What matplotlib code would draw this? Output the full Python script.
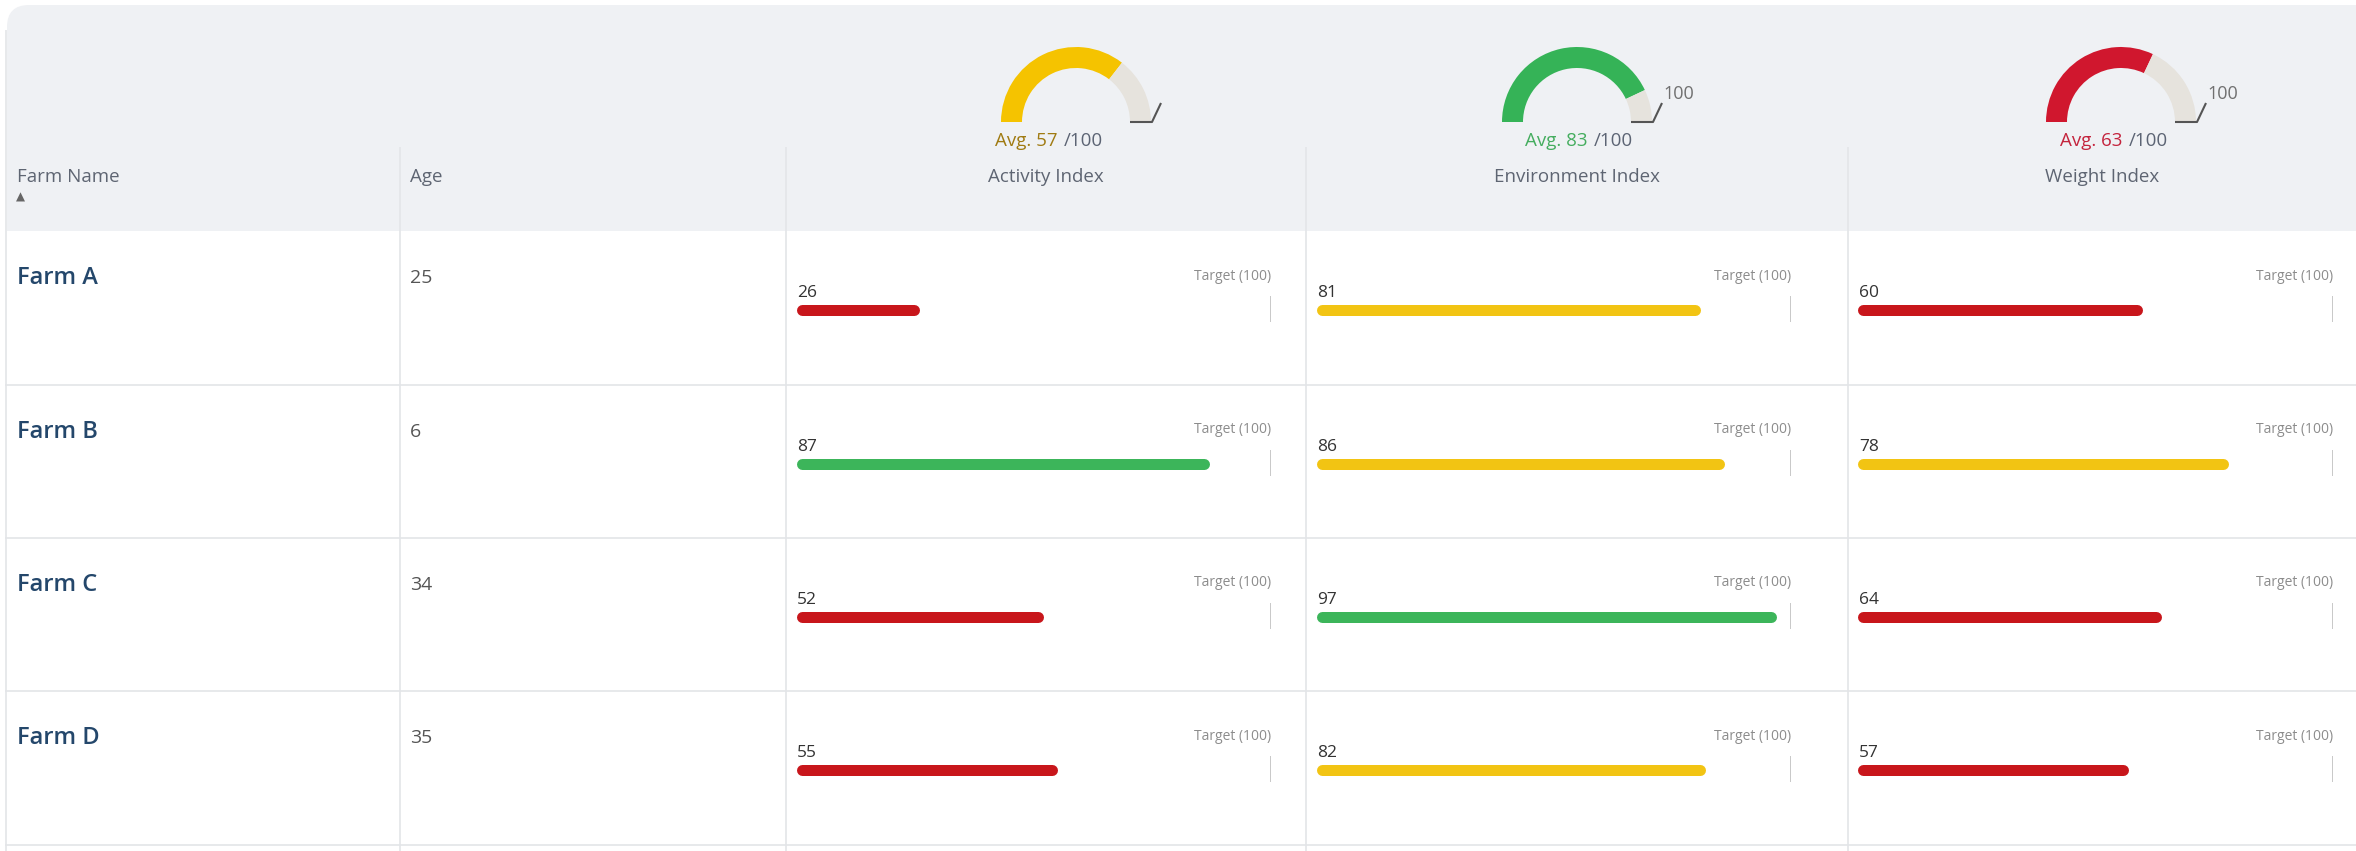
import matplotlib.pyplot as plt
import matplotlib.patches as mpatches
from matplotlib.offsetbox import TextArea, HPacker, AnnotationBbox

# table data
farms = ['Farm A', 'Farm B', 'Farm C', 'Farm D']
ages = [25, 6, 34, 35]
index_names = ['Activity Index', 'Environment Index', 'Weight Index']
activity = [26, 87, 52, 55]
environment = [81, 86, 97, 82]
weight = [60, 78, 64, 57]
averages = [57, 83, 63]
gauge_fill = [71, 86, 64]     # arc fill as drawn in the header gauges
target = 100

# colours
RED, YELLOW, GREEN = '#c8161b', '#f2c413', '#3cb55a'
G_RED, G_YELLOW, G_GREEN = '#d0172e', '#f5c300', '#35b357'
GAUGE_REST = '#e6e3dd'
HEAD_BG = '#eff1f4'
GRID = '#e3e5e8'
limits = [(70, 85), (70, 90), (70, 90)]   # red below lo, green from hi
gauge_colors = [G_YELLOW, G_GREEN, G_RED]
avg_colors = ['#a07b12', '#45ad5f', '#c4243d']

plt.rcParams['font.family'] = ['Open Sans', 'DejaVu Sans']

W, H = 2356, 851
fig = plt.figure(figsize=(W / 100, H / 100), dpi=100)
ax = fig.add_axes([0, 0, 1, 1])
ax.set_xlim(0, W)
ax.set_ylim(H, 0)
ax.axis('off')


def px_axes(x0, y0, w, h):
    a = fig.add_axes([x0 / W, 1 - (y0 + h) / H, w / W, h / H])
    a.axis('off')
    return a


# header band
ax.add_patch(mpatches.FancyBboxPatch((7, 5), W + 40, 226,
                                     boxstyle='round,pad=0,rounding_size=22',
                                     fc=HEAD_BG, ec='none'))
ax.add_patch(mpatches.Rectangle((7, 120), W, 111, fc=HEAD_BG, ec='none'))

col_x = [400, 786, 1306, 1848]
col_right = col_x[1:] + [W]
row_h = 153.3
row_top = [231.4 + i * row_h for i in range(len(farms))]

ax.vlines(col_x, 147, H, color=GRID, lw=1.2)
ax.vlines(5.5, 30, H, color=GRID, lw=1.2)
ax.hlines([t + row_h for t in row_top], 5, W, color=GRID, lw=1.2)

hdr_kw = dict(fontsize=13.5, color='#5e6572', va='center')
ax.text(17, 177, 'Farm Name', **hdr_kw)
ax.text(16, 197, '\u25b2', fontsize=8.5, color='#666666', va='center',
        family='DejaVu Sans')
ax.text(410, 177, 'Age', **hdr_kw)

gauge_dx = [30, 0, 19]
avg_dx = [3, 2, 12]
show_max = [False, True, True]
R, thick = 75, 21
for j, name in enumerate(index_names):
    cx = (col_x[j + 1] + col_right[j + 1]) / 2
    ax.text(cx, 177, name, ha='center', **hdr_kw)

    # half-donut gauge
    gx, gy = cx + gauge_dx[j], 122
    gax = px_axes(gx - R - 5, gy - R - 5, 2 * R + 70, R + 10)
    gax.pie([gauge_fill[j], 100 - gauge_fill[j], 100], radius=R,
            startangle=180, counterclock=False,
            colors=[gauge_colors[j], GAUGE_REST, 'none'],
            wedgeprops=dict(width=thick, edgecolor='none'))
    gax.set_aspect('auto')
    gax.set_xlim(-R - 5, R + 65)
    gax.set_ylim(-5, R + 5)
    gax.plot([R - thick, R + 1, R + 10], [0, 0, 19], color='#555555',
             lw=1.5, solid_capstyle='butt')
    if show_max[j]:
        gax.text(R + 11, 28, str(target), fontsize=13, color='#707070',
                 va='center')

    parts = HPacker(children=[
        TextArea('Avg. %d' % averages[j],
                 textprops=dict(fontsize=13.5, color=avg_colors[j])),
        TextArea('/%d' % target,
                 textprops=dict(fontsize=13.5, color='#5c6474'))],
        sep=5, align='baseline', pad=0)
    ax.add_artist(AnnotationBbox(parts, (cx + avg_dx[j], 141),
                                 xycoords='data', frameon=False,
                                 box_alignment=(0.5, 0.5), pad=0))

# body rows
for i, farm in enumerate(farms):
    top = row_top[i]
    ax.text(17, top + 47, farm, fontsize=17, fontweight='semibold',
            color='#24476b', va='center')
    ax.text(410, top + 47, str(ages[i]), fontsize=14, color='#555555',
            va='center')

bar_w = 475
bar_lw = 11
cap = (bar_lw / 2) / (bar_w / 100)
for j, series in enumerate([activity, environment, weight]):
    lo, hi = limits[j]
    for i, v in enumerate(series):
        bax = px_axes(col_x[j + 1] + 10, row_top[i], bar_w, row_h)
        bax.set_xlim(0, 100)
        bax.set_ylim(row_h, 0)
        c = GREEN if v >= hi else (YELLOW if v >= lo else RED)
        bax.plot([cap, v - cap], [79, 79], color=c, lw=bar_lw * 0.72,
                 solid_capstyle='round')
        bax.text(0.2, 62, str(v), fontsize=12.5, color='#333333',
                 va='center', clip_on=False)
        bax.text(target, 45, 'Target (%d)' % target, fontsize=10,
                 color='#8c8c8c', ha='right', va='center', clip_on=False)
        bax.vlines(target, 65, 91, color='#c4c4c4', lw=1.3)

fig.savefig('out.png', dpi=100, facecolor='white')
